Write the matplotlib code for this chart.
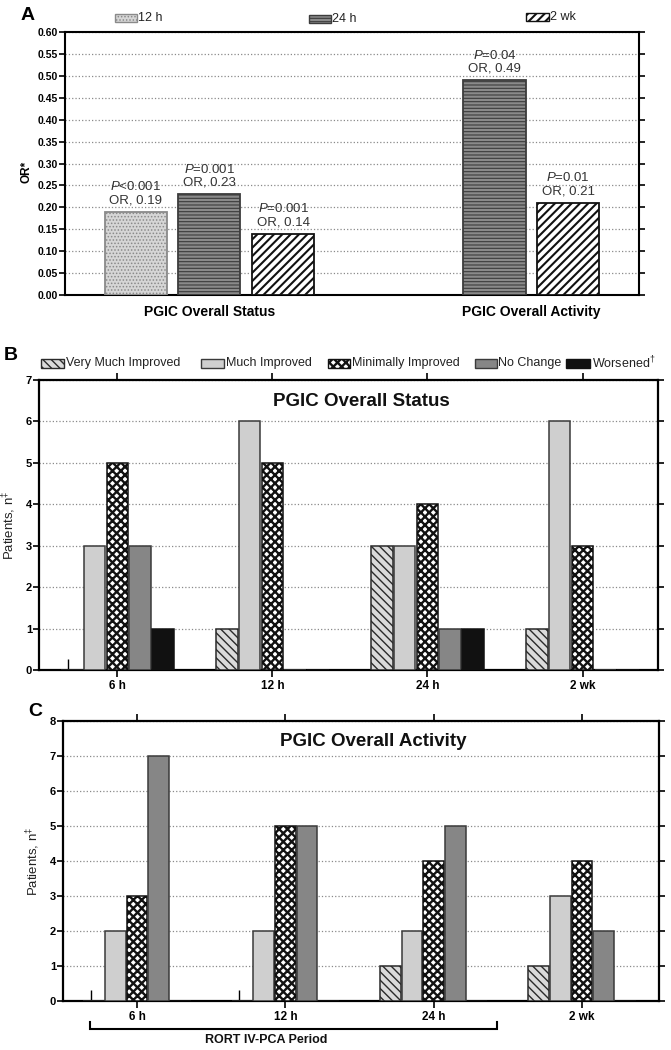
import numpy as np
import matplotlib
matplotlib.use("Agg")
import matplotlib.pyplot as plt
from matplotlib.patches import Rectangle
from matplotlib.transforms import blended_transform_factory

plt.rcParams['font.family'] = ['Liberation Sans', 'DejaVu Sans']
plt.rcParams['mathtext.fontset'] = 'custom'
plt.rcParams['mathtext.rm'] = 'Liberation Sans'
plt.rcParams['mathtext.it'] = 'Liberation Sans:italic'
plt.rcParams['mathtext.bf'] = 'Liberation Sans:bold'

# ---------------- data ----------------
# Panel A: odds ratios
a_groups = ['PGIC Overall Status', 'PGIC Overall Activity']
a_series = ['12 h', '24 h', '2 wk']
or_12h = [0.19, None]
or_24h = [0.23, 0.49]
or_2wk = [0.14, 0.21]
p_12h = ['<0.001', None]
p_24h = ['=0.001', '=0.04']
p_2wk = ['=0.001', '=0.01']
a_yticks = [0.00, 0.05, 0.10, 0.15, 0.20, 0.25, 0.30, 0.35, 0.40, 0.45, 0.50, 0.55, 0.60]

# Panels B/C: patient counts
timepoints = ['6 h', '12 h', '24 h', '2 wk']
categories = ['Very Much Improved', 'Much Improved', 'Minimally Improved', 'No Change', 'Worsened$^{\\dagger}$']
status_vmi = [0, 1, 3, 1]
status_mi = [3, 6, 3, 6]
status_mini = [5, 5, 4, 3]
status_nc = [3, 0, 1, 0]
status_w = [1, 0, 1, 0]
activity_vmi = [0, 0, 1, 1]
activity_mi = [2, 2, 2, 3]
activity_mini = [3, 5, 4, 4]
activity_nc = [7, 5, 5, 2]
activity_w = [0, 0, 0, 0]

# ---------------- styles ----------------
a_styles = [
    dict(facecolor='#d6d6d6', edgecolor='#8a8a8a', hatch='.....', hlw=0.7),
    dict(facecolor='#8a8a8a', edgecolor='#3c3c3c', hatch='-----', hlw=0.8),
    dict(facecolor='white', edgecolor='#111111', hatch='////', hlw=1.5),
]
cat_styles = [
    dict(facecolor='#dadada', edgecolor='#2a2a2a', hatch='\\\\\\\\', hlw=1.0),
    dict(facecolor='#cfcfcf', edgecolor='#3a3a3a', hatch=None, hlw=1.0),
    dict(facecolor='white', edgecolor='#111111', hatch='xxxx', hlw=1.7),
    dict(facecolor='#868686', edgecolor='#3a3a3a', hatch=None, hlw=1.0),
    dict(facecolor='#111111', edgecolor='#111111', hatch=None, hlw=1.0),
]

W, H = 671, 1050
fig = plt.figure(figsize=(W / 100, H / 100), dpi=100)


def ax_rect(l, t, r, b):
    return [l / W, 1 - b / H, (r - l) / W, (b - t) / H]


def fx(x):
    return x / W


def fy(y):
    return 1 - y / H


def style_spines(ax, lw=1.6):
    for s in ax.spines.values():
        s.set_linewidth(lw)
        s.set_color('black')


def legend_patch(x0, x1, yc, h, st, label, fs=9):
    with plt.rc_context({'hatch.linewidth': st['hlw']}):
        r = Rectangle((fx(x0), fy(yc + h / 2)), (x1 - x0) / W, h / H,
                      transform=fig.transFigure, facecolor=st['facecolor'],
                      edgecolor=st['edgecolor'], hatch=st['hatch'], linewidth=1.0)
    fig.patches.append(r)
    fig.text(fx(x1 + 1.5), fy(yc), label, fontsize=fs, va='center', ha='left', color='#222')


# ---------------- Panel A ----------------
axA = fig.add_axes(ax_rect(64.5, 32, 639, 295))
style_spines(axA, 1.5)
a_vals = [or_12h, or_24h, or_2wk]
a_ps = [p_12h, p_24h, p_2wk]
pitch_a = 0.229
width_a = 0.193
for gi, g in enumerate(a_groups):
    present = [si for si in range(len(a_series)) if a_vals[si][gi] is not None]
    n = len(present)
    for k, si in enumerate(present):
        x = gi + (k - (n - 1) / 2) * pitch_a
        v = a_vals[si][gi]
        st = a_styles[si]
        with plt.rc_context({'hatch.linewidth': st['hlw']}):
            axA.bar(x, v, width=width_a, facecolor=st['facecolor'], edgecolor=st['edgecolor'],
                    hatch=st['hatch'], linewidth=1.3, zorder=3)
        lab = '$\\it{P}$' + a_ps[si][gi] + '\nOR, ' + ('%.2f' % v)
        axA.annotate(lab, xy=(x, v), xytext=(0, 4), textcoords='offset points',
                     ha='center', va='bottom', fontsize=9.5, linespacing=1.1, color='#333')
axA.set_xlim(-0.450, 1.334)
axA.set_ylim(0, 0.60)
axA.set_yticks(a_yticks)
axA.set_yticklabels(['%.2f' % t for t in a_yticks])
axA.yaxis.grid(True, linestyle=':', color='#8a8a8a', linewidth=0.9)
axA.set_axisbelow(True)
axA.set_xticks(range(len(a_groups)))
axA.set_xticklabels(a_groups, fontsize=10, fontweight='bold')
axA.tick_params(axis='x', length=0, pad=7)
axA.tick_params(axis='y', direction='out', length=4, width=1.2, labelsize=7.5, right=True, pad=1)
plt.setp(axA.get_yticklabels(), fontweight='bold')
axA.set_ylabel('OR*', fontsize=8.5, fontweight='bold')
axA.yaxis.set_label_coords(-0.056, 0.47)

fig.text(fx(21), fy(15), 'A', fontsize=14, fontweight='bold', ha='left', va='center')
legend_patch(115, 137, 18, 8, a_styles[0], a_series[0])
legend_patch(309, 331, 19, 8, a_styles[1], a_series[1])
legend_patch(526, 549, 17, 8, a_styles[2], a_series[2])


# ---------------- Panels B & C ----------------
def count_panel(ax, series, title, ylim, pitch, width, minor_x):
    style_spines(ax, 1.6)
    n = len(series)
    xs = np.arange(len(timepoints))
    for ci, vals in enumerate(series):
        st = cat_styles[ci]
        with plt.rc_context({'hatch.linewidth': st['hlw']}):
            ax.bar(xs + (ci - (n - 1) / 2) * pitch, vals, width=width,
                   facecolor=st['facecolor'], edgecolor=st['edgecolor'],
                   hatch=st['hatch'], linewidth=1.1, zorder=3)
    ax.set_ylim(0, ylim)
    ax.set_yticks(range(0, ylim + 1))
    ax.yaxis.grid(True, linestyle=':', color='#8a8a8a', linewidth=0.9)
    ax.set_axisbelow(True)
    ax.set_xticks(xs)
    ax.set_xticklabels(timepoints, fontsize=8.5, fontweight='bold')
    ax.set_xticks(minor_x, minor=True)
    ax.tick_params(axis='x', which='major', direction='out', length=5, width=1.2, top=True, pad=2)
    ax.tick_params(axis='x', which='minor', direction='in', length=8, width=1.0, top=False)
    ax.tick_params(axis='y', direction='out', length=4, width=1.2, labelsize=8, right=True, pad=1)
    plt.setp(ax.get_yticklabels(), fontweight='bold')
    ax.text(0.52, 0.925, title, transform=ax.transAxes, ha='center', va='center',
            fontsize=13.5, fontweight='bold', color='#111')


axB = fig.add_axes(ax_rect(39, 380, 658, 670))
count_panel(axB, [status_vmi, status_mi, status_mini, status_nc, status_w],
            'PGIC Overall Status', 7, 0.147, 0.139, [-0.32])
axB.set_xlim(-0.506, 3.487)
axB.set_ylabel('Patients, n$^{\\ddagger}$', fontsize=9.5, color='#222')
axB.yaxis.set_label_coords(-0.034, 0.5)
fig.text(fx(4), fy(355), 'B', fontsize=14, fontweight='bold', ha='left', va='center')

leg_x = [(41, 64), (201, 224), (328, 350), (475, 497), (566, 590)]
for (x0, x1), st, lab in zip(leg_x, cat_styles, categories):
    legend_patch(x0, x1, 363, 9, st, lab)

axC = fig.add_axes(ax_rect(63, 721, 659, 1001))
count_panel(axC, [activity_vmi, activity_mi, activity_mini, activity_nc, activity_w],
            'PGIC Overall Activity', 8, 0.146, 0.139, [-0.31, 0.69])
axC.set_xlim(-0.499, 3.519)
axC.set_ylabel('Patients, n$^{\\ddagger}$', fontsize=9.5, color='#222')
axC.yaxis.set_label_coords(-0.035, 0.5)
fig.text(fx(28), fy(712), 'C', fontsize=14, fontweight='bold', ha='left', va='center')

# bracket for RORT IV-PCA period (6 h .. 24 h)
tr = blended_transform_factory(axC.transData, axC.transAxes)
bx0, bx1 = -0.32, 2.43
axC.plot([bx0, bx0, bx1, bx1], [-0.075, -0.1, -0.1, -0.075], transform=tr,
         color='black', linewidth=1.5, clip_on=False, solid_joinstyle='miter')
axC.text(0.87, -0.138, 'RORT IV-PCA Period', transform=tr, ha='center', va='center',
         fontsize=9, fontweight='bold', color='#111')

fig.savefig('out.png', dpi=100)
